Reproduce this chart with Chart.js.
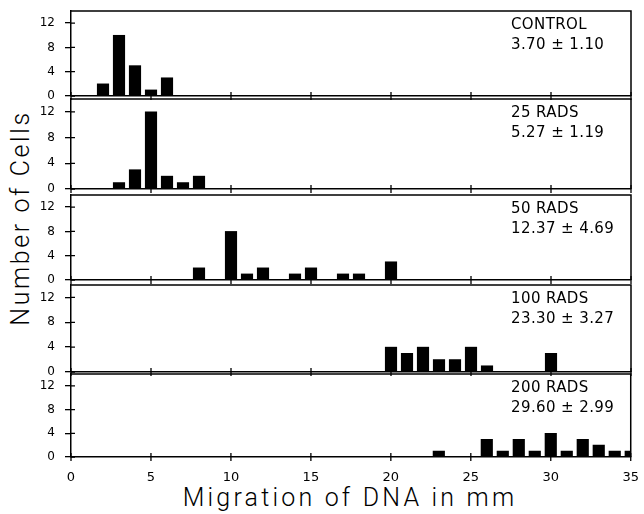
<!DOCTYPE html>
<html>
<head>
<meta charset="utf-8">
<script src="https://cdn.jsdelivr.net/npm/chart.js@4.4.0/dist/chart.umd.min.js"></script>
<style>
  body { margin: 0; background: #fff; }
  #wrap { position: relative; width: 644px; height: 514px; overflow: hidden; font-family: "DejaVu Sans", sans-serif; color: #000; }
  #wrap canvas { position: absolute; left: 0; }
  .note { position: absolute; left: 511px; font-size: 15px; letter-spacing: 0.4px; line-height: 20px; white-space: nowrap; }
  .title { position: absolute; font-family: Roboto, "DejaVu Sans", sans-serif; font-weight: 300; font-size: 25px; white-space: nowrap; }
  #ytitle { left: 20px; top: 218px; transform: translate(-50%, -50%) rotate(-90deg); letter-spacing: 2.6px; }
  #xtitle { left: 350px; top: 497px; transform: translate(-50%, -50%); letter-spacing: 3.2px; }
</style>
</head>
<body>
<div id="wrap">
  <div id="ytitle" class="title">Number of Cells</div>
  <div id="xtitle" class="title">Migration of DNA in mm</div>
</div>
<script>
// dose groups and their mean ± sd
const groups = ['CONTROL', '25 RADS', '50 RADS', '100 RADS', '200 RADS'];
const stats = ['3.70 ± 1.10', '5.27 ± 1.19', '12.37 ± 4.69', '23.30 ± 3.27', '29.60 ± 2.99'];

// migration (mm) -> number of cells, per group
const controlMm = [2, 3, 4, 5, 6];
const controlCells = [2, 10, 5, 1, 3];
const rads25Mm = [3, 4, 5, 6, 7, 8];
const rads25Cells = [1, 3, 12, 2, 1, 2];
const rads50Mm = [8, 10, 11, 12, 14, 15, 17, 18, 20];
const rads50Cells = [2, 8, 1, 2, 1, 2, 1, 1, 3];
const rads100Mm = [20, 21, 22, 23, 24, 25, 26, 30];
const rads100Cells = [4, 3, 4, 2, 2, 4, 1, 3];
const rads200Mm = [23, 26, 27, 28, 29, 30, 31, 32, 33, 34, 35];
const rads200Cells = [1, 3, 1, 3, 1, 4, 1, 3, 2, 1, 1];

const yTickLabels = [0, 4, 8, 12];
const xMin = 0, xMax = 35, xStep = 5;

// panel frame top / zero line in page pixels
const panelTop = [11, 99, 195, 285, 374];
const panelZero = [96, 189, 280, 372, 457];
const pad = 30; // spare canvas room above and below each plot area

const series = [
    [controlMm, controlCells],
    [rads25Mm, rads25Cells],
    [rads50Mm, rads50Cells],
    [rads100Mm, rads100Cells],
    [rads200Mm, rads200Cells]
];

const wrap = document.getElementById('wrap');
const font = '"DejaVu Sans", sans-serif';

// top/right frame lines and x tick marks crossing the axis, inward y ticks
const framePlugin = {
    id: 'frame',
    afterDraw(chart) {
        const { ctx, chartArea: a, scales } = chart;
        ctx.save();
        ctx.strokeStyle = '#000';
        ctx.lineWidth = 1.5;
        ctx.beginPath();
        ctx.moveTo(a.left, a.top);
        ctx.lineTo(a.right, a.top);
        ctx.lineTo(a.right, a.bottom);
        ctx.stroke();
        ctx.lineWidth = 1.3;
        ctx.beginPath();
        scales.y.ticks.forEach(t => {
            const y = scales.y.getPixelForValue(t.value);
            ctx.moveTo(a.left, y);
            ctx.lineTo(a.left + 4, y);
        });
        scales.x.ticks.forEach(t => {
            const x = scales.x.getPixelForValue(t.value);
            ctx.moveTo(x, a.bottom + 4);
            ctx.lineTo(x, a.bottom - 4);
        });
        ctx.stroke();
        ctx.restore();
    }
};

function makePanel(i) {
    const isLast = i === series.length - 1;
    const [mm, cells] = series[i];
    const top = panelTop[i];
    const below = isLast ? 48 : pad;
    const h = panelZero[i] - top + pad + below;

    const canvas = document.createElement('canvas');
    canvas.width = 644;
    canvas.height = h;
    canvas.style.width = '644px';
    canvas.style.height = h + 'px';
    canvas.style.top = (top - pad) + 'px';
    wrap.appendChild(canvas);

    new Chart(canvas, {
        type: 'bar',
        data: {
            datasets: [{
                data: mm.map((x, k) => ({ x: x, y: cells[k] })),
                backgroundColor: '#000',
                borderWidth: 0,
                barThickness: 11.5
            }]
        },
        options: {
            responsive: false,
            animation: false,
            layout: { padding: { top: pad, right: 13, left: 0, bottom: 0 } },
            plugins: { legend: { display: false }, tooltip: { enabled: false } },
            scales: {
                x: {
                    type: 'linear',
                    min: xMin,
                    max: xMax,
                    offset: false,
                    ticks: { stepSize: xStep, display: isLast, color: '#000', font: { family: font, size: 13 }, padding: 5, maxRotation: 0, autoSkip: false },
                    grid: { drawOnChartArea: false, drawTicks: true, tickLength: 8, tickColor: 'rgba(0,0,0,0)', color: '#000', lineWidth: 1.3 },
                    border: { display: true, color: '#000', width: 1.5 },
                    afterFit: s => { s.height = below; }
                },
                y: {
                    min: 0,
                    max: 14,
                    ticks: {
                        stepSize: 2,
                        color: '#000',
                        font: { family: font, size: 12 },
                        padding: 10,
                        callback: v => yTickLabels.includes(v) ? v : ''
                    },
                    grid: { drawOnChartArea: false, tickLength: 6, color: '#000', lineWidth: 1.3 },
                    border: { color: '#000', width: 1.5 },
                    afterFit: s => { s.width = 71; }
                }
            }
        },
        plugins: [framePlugin]
    });

    const n1 = document.createElement('div');
    n1.className = 'note';
    n1.textContent = groups[i];
    n1.style.top = (top + 3) + 'px';
    wrap.appendChild(n1);
    const n2 = document.createElement('div');
    n2.className = 'note';
    n2.textContent = stats[i];
    n2.style.top = (top + 23) + 'px';
    wrap.appendChild(n2);
}

series.forEach((s, i) => makePanel(i));
</script>
</body>
</html>
